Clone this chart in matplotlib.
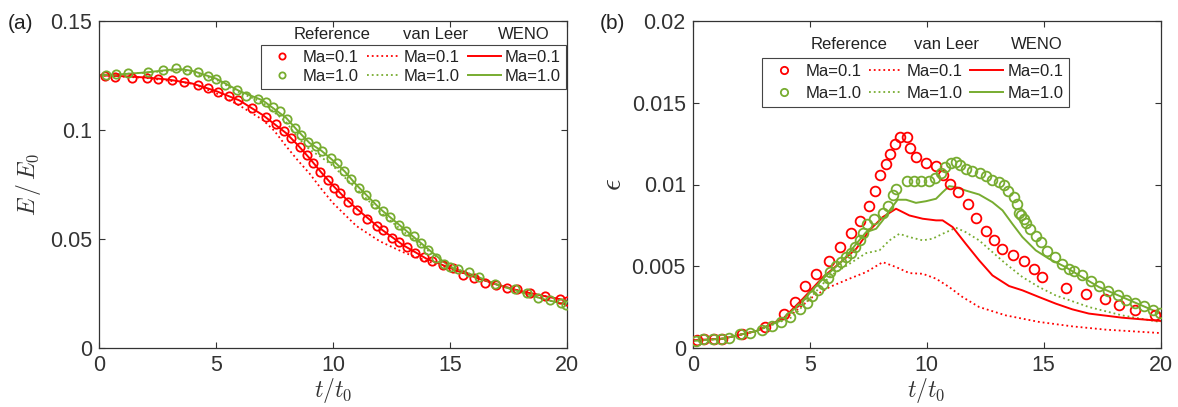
import matplotlib
matplotlib.use('Agg')
import matplotlib.pyplot as plt

plt.rcParams['font.family'] = ['Liberation Sans', 'DejaVu Sans']
plt.rcParams['mathtext.fontset'] = 'cm'

red = (1.0, 0.0, 0.0)
green = '#77AC30'
gray = '#333333'

#### (a) kinetic energy E/E0
a_ref01_t = [0.27, 0.67, 1.41, 2.05, 2.54, 3.12, 3.65, 4.22, 4.67, 5.10, 5.56, 5.96, 6.55, 7.13, 7.58,
             7.90, 8.22, 8.57, 8.87, 9.16, 9.45, 9.78, 10.04, 10.31, 10.66, 11.03, 11.46, 11.86, 12.12,
             12.53, 12.82, 13.16, 13.52, 13.89, 14.24, 14.69, 15.11, 15.54, 16.02, 16.51, 16.96, 17.44,
             17.86, 18.42, 19.07, 19.71, 20.0]
a_ref01_E = [0.1247, 0.1244, 0.1238, 0.1236, 0.1233, 0.1227, 0.1220, 0.1204, 0.1192, 0.1175, 0.1157,
             0.1137, 0.1102, 0.1058, 0.1026, 0.0997, 0.0965, 0.0922, 0.0883, 0.0848, 0.0805, 0.0770,
             0.0736, 0.0712, 0.0672, 0.0633, 0.0591, 0.0558, 0.0540, 0.0506, 0.0485, 0.0462, 0.0436,
             0.0416, 0.0401, 0.0383, 0.0366, 0.0337, 0.0323, 0.0300, 0.0288, 0.0278, 0.0270, 0.0253,
             0.0241, 0.0227, 0.0216]
a_ref10_t = [0.30, 0.72, 1.26, 2.08, 2.75, 3.29, 3.76, 4.22, 4.67, 5.02, 5.37, 5.90, 6.30, 6.81, 7.13,
             7.45, 7.74, 8.04, 8.39, 8.63, 8.94, 9.26, 9.53, 9.91, 10.18, 10.49, 10.78, 11.09, 11.40,
             11.78, 12.13, 12.45, 12.84, 13.14, 13.45, 13.76, 14.08, 14.40, 14.74, 15.01, 15.36, 15.80,
             16.23, 16.93, 17.79, 18.31, 18.78, 19.26, 19.74, 19.97]
a_ref10_E = [0.1253, 0.1256, 0.1259, 0.1267, 0.1274, 0.1282, 0.1274, 0.1264, 0.1248, 0.1235, 0.1207,
             0.1183, 0.1157, 0.1143, 0.1130, 0.1105, 0.1087, 0.1050, 0.1008, 0.0976, 0.0945, 0.0924,
             0.0905, 0.0873, 0.0848, 0.0811, 0.0776, 0.0732, 0.0701, 0.0659, 0.0630, 0.0599, 0.0564,
             0.0537, 0.0512, 0.0480, 0.0450, 0.0413, 0.0386, 0.0370, 0.0363, 0.0348, 0.0328, 0.0294,
             0.0271, 0.0253, 0.0230, 0.0223, 0.0207, 0.0200]
a_vl01_t = [0, 2, 4, 5, 6, 7, 7.5, 8, 8.5, 9, 9.5, 10, 11, 12, 13, 14, 15, 16, 17, 18, 19, 20]
a_vl01_E = [0.1250, 0.1238, 0.1212, 0.1168, 0.1112, 0.1046, 0.0995, 0.0925, 0.0860, 0.0800, 0.0730,
            0.0665, 0.0560, 0.0490, 0.0440, 0.0400, 0.0365, 0.0328, 0.0292, 0.0262, 0.0240, 0.0218]
a_vl10_t = [0, 2, 3.5, 5, 6, 7, 8, 8.5, 9, 9.5, 10, 11, 12, 13, 14, 15, 16, 17, 18, 19, 20]
a_vl10_E = [0.1250, 0.1262, 0.1275, 0.1230, 0.1172, 0.1125, 0.1035, 0.0965, 0.0910, 0.0875, 0.0835,
            0.0730, 0.0625, 0.0535, 0.0452, 0.0375, 0.0335, 0.0292, 0.0258, 0.0225, 0.0200]
a_we01_t = [0, 1, 2, 3, 4, 5, 6, 7, 8, 8.5, 9, 9.5, 10, 10.5, 11, 12, 13, 14, 15, 16, 17, 18, 19, 20]
a_we01_E = [0.1250, 0.1246, 0.1240, 0.1230, 0.1212, 0.1178, 0.1135, 0.1068, 0.0985, 0.0930, 0.0870,
            0.0805, 0.0745, 0.0690, 0.0640, 0.0550, 0.0472, 0.0410, 0.0368, 0.0328, 0.0292, 0.0262,
            0.0240, 0.0218]
a_we10_t = [0, 1, 2, 3, 3.5, 4, 5, 6, 7, 8, 8.5, 9, 9.5, 10, 10.5, 11, 12, 13, 14, 15, 16, 17, 18, 19, 20]
a_we10_E = [0.1250, 0.1255, 0.1263, 0.1275, 0.1278, 0.1270, 0.1235, 0.1178, 0.1135, 0.1055, 0.0995,
            0.0940, 0.0905, 0.0860, 0.0810, 0.0748, 0.0640, 0.0550, 0.0460, 0.0372, 0.0335, 0.0292,
            0.0258, 0.0225, 0.0200]

#### (b) error epsilon
b_ref01_t = [0.19, 0.49, 0.89, 1.26, 2.11, 3.08, 3.89, 4.39, 4.80, 5.27, 5.81, 6.29, 6.78, 7.15, 7.52,
             7.79, 8.01, 8.27, 8.44, 8.65, 8.86, 9.16, 9.29, 9.54, 9.96, 10.39, 10.69, 11.01, 11.35,
             11.75, 12.11, 12.53, 12.86, 13.23, 13.69, 14.14, 14.57, 14.91, 15.96, 16.79, 17.64, 18.21,
             18.90, 19.76]
b_ref01_e = [0.00049, 0.00057, 0.00059, 0.00059, 0.00090, 0.00130, 0.00208, 0.00283, 0.00379, 0.00452,
             0.00530, 0.00619, 0.00705, 0.00778, 0.00870, 0.00961, 0.01057, 0.01124, 0.01189, 0.01246,
             0.01287, 0.01287, 0.01222, 0.01165, 0.01130, 0.01110, 0.01057, 0.01002, 0.00953, 0.00880,
             0.00798, 0.00717, 0.00664, 0.00609, 0.00570, 0.00532, 0.00485, 0.00436, 0.00371, 0.00330,
             0.00301, 0.00263, 0.00232, 0.00204]
b_ref10_t = [0.14, 0.45, 0.85, 1.23, 1.53, 2.04, 2.47, 2.95, 3.38, 3.79, 4.17, 4.57, 4.88, 5.11, 5.34,
             5.57, 5.78, 5.85, 6.11, 6.35, 6.56, 6.77, 6.94, 7.13, 7.27, 7.44, 7.75, 8.12, 8.35, 8.55,
             8.69, 9.14, 9.44, 9.76, 10.08, 10.37, 10.61, 10.79, 11.02, 11.25, 11.42, 11.67, 11.93,
             12.28, 12.53, 12.81, 13.10, 13.31, 13.49, 13.73, 13.85, 13.95, 14.02, 14.14, 14.26, 14.43,
             14.66, 14.87, 15.15, 15.48, 15.79, 16.10, 16.29, 16.62, 17.00, 17.36, 17.74, 18.17, 18.53,
             18.92, 19.30, 19.66, 19.96]
b_ref10_e = [0.00045, 0.00057, 0.00057, 0.00059, 0.00061, 0.00089, 0.00096, 0.00114, 0.00134, 0.00161,
             0.00191, 0.00242, 0.00276, 0.00319, 0.00354, 0.00394, 0.00429, 0.00466, 0.00502, 0.00527,
             0.00557, 0.00581, 0.00618, 0.00663, 0.00703, 0.00756, 0.00790, 0.00825, 0.00866, 0.00933,
             0.00974, 0.01020, 0.01024, 0.01022, 0.01024, 0.01041, 0.01069, 0.01106, 0.01130, 0.01136,
             0.01116, 0.01096, 0.01085, 0.01069, 0.01049, 0.01029, 0.01014, 0.00994, 0.00963, 0.00923,
             0.00880, 0.00825, 0.00815, 0.00791, 0.00764, 0.00730, 0.00683, 0.00648, 0.00594, 0.00557,
             0.00516, 0.00486, 0.00472, 0.00445, 0.00411, 0.00382, 0.00350, 0.00323, 0.00293, 0.00276,
             0.00256, 0.00232, 0.00218]
b_vl01_t = [0, 1.30, 2.73, 4.27, 5.12, 5.85, 6.70, 7.41, 8.12, 8.69, 9.26, 9.83, 10.40, 10.96, 11.53,
            12.24, 13.38, 14.80, 16.22, 17.64, 20]
b_vl01_e = [0.00049, 0.00059, 0.00106, 0.00212, 0.00313, 0.00374, 0.00425, 0.00465, 0.00526, 0.00496,
            0.00459, 0.00455, 0.00425, 0.00374, 0.00313, 0.00252, 0.00201, 0.00161, 0.00134, 0.00114,
            0.00093]
b_vl10_t = [0, 1.30, 2.73, 4.27, 5.12, 5.85, 6.70, 7.41, 7.98, 8.41, 8.83, 9.26, 9.83, 10.25, 10.68,
            11.25, 11.67, 12.24, 12.81, 13.38, 14.09, 14.80, 15.51, 16.93, 18.35, 20]
b_vl10_e = [0.00045, 0.00059, 0.00106, 0.00191, 0.00323, 0.00439, 0.00516, 0.00581, 0.00598, 0.00659,
            0.00699, 0.00679, 0.00659, 0.00669, 0.00699, 0.00736, 0.00709, 0.00659, 0.00587, 0.00516,
            0.00435, 0.00374, 0.00323, 0.00252, 0.00201, 0.00160]
b_we01_t = [0, 1.30, 2.73, 3.86, 4.71, 5.57, 6.42, 6.99, 7.55, 8.12, 8.69, 9.26, 9.83, 10.40, 10.68,
            11.11, 11.67, 12.24, 12.81, 13.52, 14.09, 14.80, 15.51, 16.22, 16.93, 18.35, 20]
b_we01_e = [0.00049, 0.00059, 0.00106, 0.00181, 0.00303, 0.00435, 0.00537, 0.00608, 0.00720, 0.00801,
            0.00852, 0.00811, 0.00791, 0.00781, 0.00781, 0.00740, 0.00638, 0.00537, 0.00445, 0.00380,
            0.00354, 0.00313, 0.00273, 0.00238, 0.00212, 0.00187, 0.00167]
b_we10_t = [0, 1.30, 2.73, 3.86, 4.71, 5.57, 6.42, 6.99, 7.41, 7.84, 8.12, 8.41, 8.76, 9.12, 9.54, 9.97,
            10.40, 10.68, 10.96, 11.25, 11.67, 12.24, 12.81, 13.24, 13.66, 14.09, 14.66, 15.22, 15.93,
            16.64, 17.36, 18.35, 20]
b_we10_e = [0.00045, 0.00059, 0.00106, 0.00175, 0.00293, 0.00425, 0.00537, 0.00638, 0.00709, 0.00730,
            0.00781, 0.00842, 0.00907, 0.00907, 0.00888, 0.00898, 0.00913, 0.00953, 0.00990, 0.00984,
            0.00963, 0.00939, 0.00892, 0.00842, 0.00760, 0.00679, 0.00598, 0.00547, 0.00496, 0.00435,
            0.00374, 0.00313, 0.00212]

labels = ['Ma=0.1', 'Ma=1.0', 'Ma=0.1', 'Ma=1.0', 'Ma=0.1', 'Ma=1.0']
headers = ['Reference', 'van Leer', 'WENO']
xticks = [0, 5, 10, 15, 20]
a_yticks = [0, 0.05, 0.1, 0.15]
a_yticklabels = ['0', '0.05', '0.1', '0.15']
b_yticks = [0, 0.005, 0.01, 0.015, 0.02]
b_yticklabels = ['0', '0.005', '0.01', '0.015', '0.02']

fig = plt.figure(figsize=(11.78, 4.07), dpi=100)
axa = fig.add_axes([99/1178, 58.7/407, 468/1178, 327.6/407])
axb = fig.add_axes([692.7/1178, 58.7/407, 468/1178, 327.6/407])


def draw(ax, ref01, ref10, vl01, vl10, we01, we10, ms):
    h = []
    h += ax.plot(ref01[0], ref01[1], 'o', mfc='none', mec=red, ms=ms, mew=1.3, zorder=3)
    h += ax.plot(ref10[0], ref10[1], 'o', mfc='none', mec=green, ms=ms, mew=1.3, zorder=3)
    h += ax.plot(vl01[0], vl01[1], ':', color=red, lw=1.3)
    h += ax.plot(vl10[0], vl10[1], ':', color=green, lw=1.3)
    h += ax.plot(we01[0], we01[1], '-', color=red, lw=1.4)
    h += ax.plot(we10[0], we10[1], '-', color=green, lw=1.4)
    return h


ha = draw(axa, (a_ref01_t, a_ref01_E), (a_ref10_t, a_ref10_E), (a_vl01_t, a_vl01_E),
          (a_vl10_t, a_vl10_E), (a_we01_t, a_we01_E), (a_we10_t, a_we10_E), 6.0)
hb = draw(axb, (b_ref01_t, b_ref01_e), (b_ref10_t, b_ref10_e), (b_vl01_t, b_vl01_e),
          (b_vl10_t, b_vl10_e), (b_we01_t, b_we01_e), (b_we10_t, b_we10_e), 7.0)

for ax, yt, ytl in [(axa, a_yticks, a_yticklabels), (axb, b_yticks, b_yticklabels)]:
    ax.set_xlim(0, 20)
    ax.set_ylim(yt[0], yt[-1])
    ax.set_xticks(xticks)
    ax.set_xticklabels([str(x) for x in xticks])
    ax.set_yticks(yt)
    ax.set_yticklabels(ytl)
    ax.tick_params(direction='in', top=True, right=True, length=4, width=0.8,
                   labelsize=15.5, labelcolor=gray, color=gray, pad=5)
    for s in ax.spines.values():
        s.set_color(gray)
        s.set_linewidth(0.9)
    ax.set_xlabel(r'$t/t_0$', fontsize=17, color=gray, labelpad=0)

axa.set_ylabel(r'$E\,/\,E_0$', fontsize=17, color=gray, labelpad=5)
axb.set_ylabel(r'$\epsilon$', fontsize=21, color=gray, labelpad=3)

fig.text(8/1178, 1 - 29/407, '(a)', fontsize=15, color='#222222')
fig.text(600/1178, 1 - 29/407, '(b)', fontsize=15, color='#222222')

# legends
leg_kw = dict(ncol=3, fontsize=12, frameon=True, fancybox=False, framealpha=1,
              edgecolor='#444444', handlelength=2.0, handletextpad=0.25, columnspacing=0.45,
              borderaxespad=0, markerscale=0.75)
la = axa.legend(ha, labels, loc='upper right', bbox_to_anchor=(0.998, 0.926),
                borderpad=0.3, labelspacing=0.25, **leg_kw)
lb = axb.legend(hb, labels, loc='upper left', bbox_to_anchor=(0.148, 0.885),
                borderpad=0.35, labelspacing=0.4, **leg_kw)
for lg in (la, lb):
    lg.get_frame().set_linewidth(0.8)
    for t in lg.get_texts():
        t.set_color('#222222')

for x, txt in zip([0.498, 0.718, 0.908], headers):
    axa.text(x, 0.959, txt, transform=axa.transAxes, ha='center', va='center',
             fontsize=12, color='#222222')
for x, txt in zip([0.334, 0.543, 0.736], headers):
    axb.text(x, 0.926, txt, transform=axb.transAxes, ha='center', va='center',
             fontsize=12, color='#222222')

fig.savefig('out.png', dpi=100)
